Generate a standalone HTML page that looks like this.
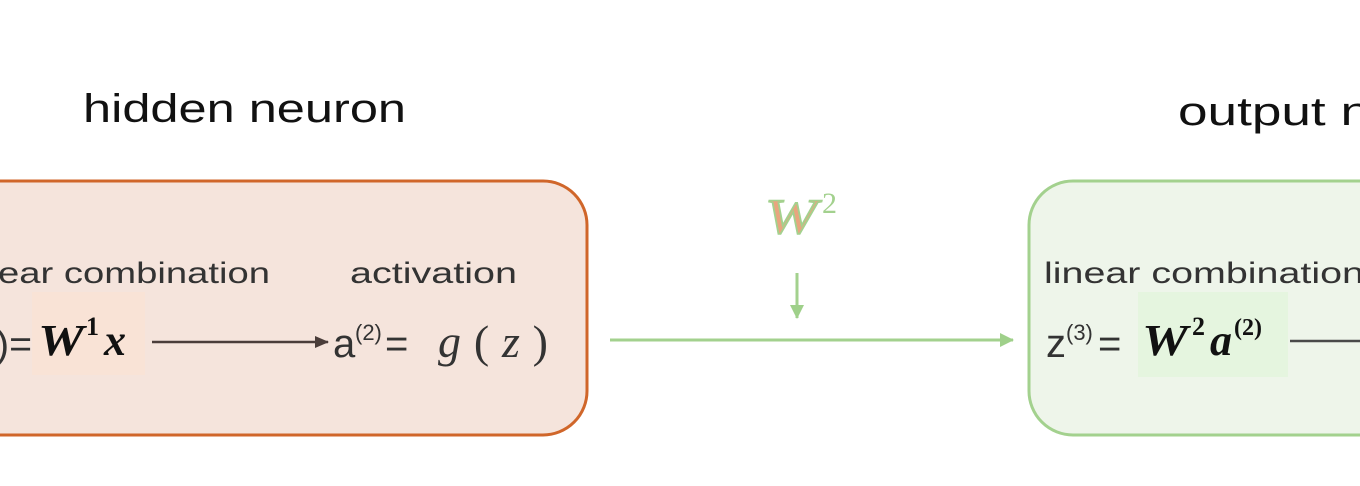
<!DOCTYPE html>
<html><head><meta charset="utf-8"><style>html,body{margin:0;padding:0;background:#fff;width:1360px;height:486px;overflow:hidden}</style></head>
<body>
<svg width="1360" height="486" viewBox="0 0 1360 486" xmlns="http://www.w3.org/2000/svg">
<defs>
<marker id="ad" markerWidth="14" markerHeight="12" refX="13" refY="6" orient="auto" markerUnits="userSpaceOnUse"><path d="M0,0 L14,6 L0,12 z" fill="#4a3d3a"/></marker>
<marker id="ag" markerWidth="14" markerHeight="14" refX="13" refY="7" orient="auto" markerUnits="userSpaceOnUse"><path d="M0,0 L14,7 L0,14 z" fill="#9fd08a"/></marker>
</defs>
<text x="83" y="122" font-family="Liberation Sans, sans-serif" font-size="40" fill="#111" textLength="323" lengthAdjust="spacingAndGlyphs">hidden neuron</text>
<text x="1178" y="125" font-family="Liberation Sans, sans-serif" font-size="40" fill="#111" textLength="192" lengthAdjust="spacingAndGlyphs">output n</text>
<rect x="-50" y="181" width="637" height="254" rx="44" fill="#f5e4dc" stroke="#d0662a" stroke-width="3"/>
<rect x="1029" y="181" width="400" height="254" rx="44" fill="#eef5ea" stroke="#a3d18e" stroke-width="3"/>
<rect x="32" y="292" width="113" height="83" fill="#f9e3d6"/>
<rect x="1138" y="292" width="150" height="85" fill="#e5f5df"/>
<g font-family="Liberation Sans, sans-serif" font-size="30" fill="#333">
<text x="-2" y="283" textLength="272" lengthAdjust="spacingAndGlyphs">ear combination</text>
<text x="350" y="283" textLength="167" lengthAdjust="spacingAndGlyphs">activation</text>
<text x="1044" y="283" textLength="320" lengthAdjust="spacingAndGlyphs">linear combination</text>
<text x="-4" y="357" font-size="38" textLength="36" lengthAdjust="spacingAndGlyphs">)=</text>
<text x="333" y="357" font-size="40">a</text>
<text x="355" y="340" font-size="22">(2)</text>
<text x="385" y="357" font-size="40">=</text>
<text x="1046" y="357" font-size="40">z</text>
<text x="1066" y="340" font-size="22">(3)</text>
<text x="1098" y="357" font-size="40">=</text>
</g>
<g font-family="Liberation Serif, serif" font-style="italic" fill="#111">
<text x="38" y="355" font-size="44" font-weight="bold" textLength="46" lengthAdjust="spacingAndGlyphs">W</text>
<text x="86" y="335" font-size="26" font-weight="bold" font-style="normal">1</text>
<text x="104" y="355" font-size="44" font-weight="bold">x</text>
<text x="438" y="357" font-size="46" fill="#333" textLength="110" lengthAdjust="spacing">g<tspan font-style="normal">(</tspan>z<tspan font-style="normal">)</tspan></text>
<text x="1142" y="355" font-size="44" font-weight="bold" textLength="46" lengthAdjust="spacingAndGlyphs">W</text>
<text x="1192" y="335" font-size="26" font-weight="bold" font-style="normal">2</text>
<text x="1210" y="355" font-size="44" font-weight="bold">a</text>
<text x="1234" y="335" font-size="24" font-weight="bold" font-style="normal">(2)</text>
<text x="765" y="233" font-size="50" fill="#e8a57e" stroke="#a3d18e" stroke-width="1.5" textLength="52" lengthAdjust="spacingAndGlyphs">W</text>
<text x="822" y="213" font-size="30" font-style="normal" fill="#a3d18e">2</text>
</g>
<line x1="152" y1="342" x2="328" y2="342" stroke="#4a3d3a" stroke-width="2.5" marker-end="url(#ad)"/>
<line x1="610" y1="340" x2="1013" y2="340" stroke="#a3d18e" stroke-width="3" marker-end="url(#ag)"/>
<line x1="797" y1="273" x2="797" y2="318" stroke="#a3d18e" stroke-width="3" marker-end="url(#ag)"/>
<line x1="1290" y1="341" x2="1360" y2="341" stroke="#4a4a4a" stroke-width="2.5"/>
</svg>
</body></html>
